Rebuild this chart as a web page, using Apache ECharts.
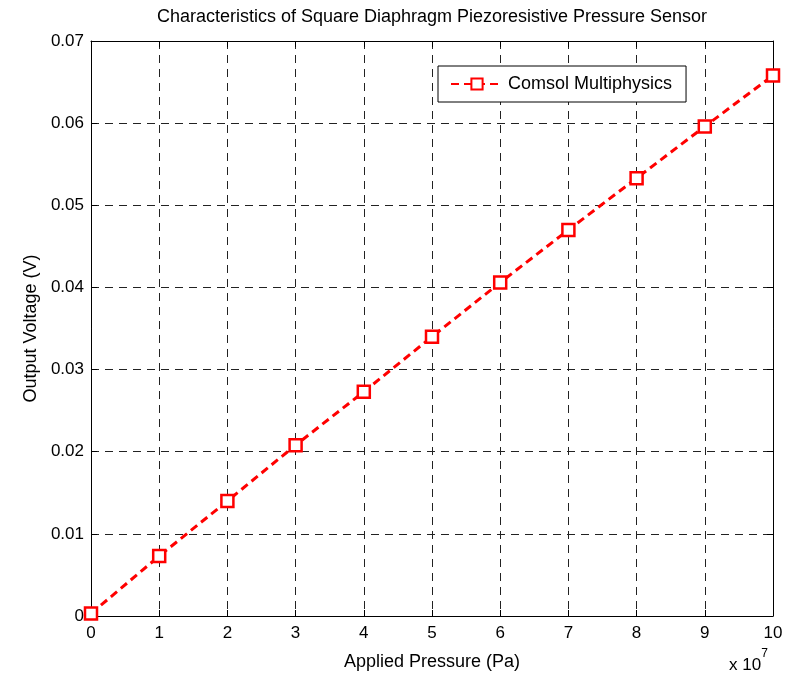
<!DOCTYPE html>
<html><head><meta charset="utf-8">
<script src="https://cdn.jsdelivr.net/npm/echarts@6/dist/echarts.min.js"></script>
<style>html,body{margin:0;padding:0;background:#fff}#c{width:793px;height:680px}</style>
</head><body><div id="c"></div>
<script>
const pressure = [0, 1, 2, 3, 4, 5, 6, 7, 8, 9, 10];
const voltage = [0.0003, 0.0073, 0.0140, 0.0208, 0.0273, 0.0340, 0.0406, 0.0470, 0.0533, 0.0596, 0.0658];
const seriesName = 'Comsol Multiphysics';
const titleText = 'Characteristics of Square Diaphragm Piezoresistive Pressure Sensor';
const xName = 'Applied Pressure (Pa)';
const yName = 'Output Voltage (V)';

const F = 'Liberation Sans, Arial, sans-serif';
const chart = echarts.init(document.getElementById('c'));
const grid = {left: 91, top: 41, right: 20, bottom: 64};
const gridLine = {show: true, lineStyle: {color: '#222', type: [8, 6], width: 1}};
const axLine = {show: true, onZero: false, lineStyle: {color: '#000', width: 1}};
const tick = {show: true, inside: true, length: 6, lineStyle: {color: '#000'}};
chart.setOption({
  animation: false,
  grid: grid,
  xAxis: [
    {type: 'value', min: 0, max: 10, interval: 1, position: 'bottom',
     name: xName, nameLocation: 'middle', nameGap: 37, nameTextStyle: {fontFamily: F, fontSize: 18, color: '#000'},
     axisLine: axLine, axisTick: tick, splitLine: gridLine,
     axisLabel: {fontFamily: F, fontSize: 17, color: '#000', margin: 9}},
    {type: 'value', min: 0, max: 10, interval: 1, position: 'top',
     axisLine: axLine, axisTick: tick, splitLine: {show: false}, axisLabel: {show: false}}
  ],
  yAxis: [
    {type: 'value', min: 0, max: 0.07, interval: 0.01, position: 'left',
     name: yName, nameLocation: 'middle', nameGap: 49, nameRotate: 90, nameTextStyle: {fontFamily: F, fontSize: 18, color: '#000'},
     axisLine: axLine, axisTick: tick, splitLine: gridLine,
     axisLabel: {fontFamily: F, fontSize: 17, color: '#000', margin: 7,
       formatter: v => (Math.abs(v) < 1e-9 ? '0' : v.toFixed(2))}},
    {type: 'value', min: 0, max: 0.07, interval: 0.01, position: 'right',
     axisLine: axLine, axisTick: tick, splitLine: {show: false}, axisLabel: {show: false}}
  ],
  legend: {
    left: 438, top: 66, orient: 'horizontal',
    backgroundColor: '#fff', borderColor: '#000', borderWidth: 1,
    padding: [9, 14, 9, 12], itemWidth: 52, itemHeight: 14, itemGap: 10,
    textStyle: {fontFamily: F, fontSize: 18, color: '#000'},
    data: [seriesName]
  },
  series: [{
    name: seriesName, type: 'line',
    data: pressure.map((p, i) => [p, voltage[i]]),
    symbol: 'rect', symbolSize: 12, showSymbol: true,
    itemStyle: {color: '#fff', borderColor: '#ff0000', borderWidth: 2.5},
    lineStyle: {color: '#ff0000', width: 3, type: [8, 5]},
    z: 5
  }],
  graphic: [{
    type: 'text', x: 432, y: 8,
    style: {text: titleText, fill: '#000', font: '18px ' + F, textAlign: 'center', textVerticalAlign: 'top'}
  }, {
    type: 'text', left: 729, top: 648,
    style: {text: '{a|x 10}{b|7}', fill: '#000',
      rich: {a: {fontFamily: F, fontSize: 17, padding: [9, 0, 0, 0]}, b: {fontFamily: F, fontSize: 12, verticalAlign: 'top'}}}
  }]
});
</script></body></html>
